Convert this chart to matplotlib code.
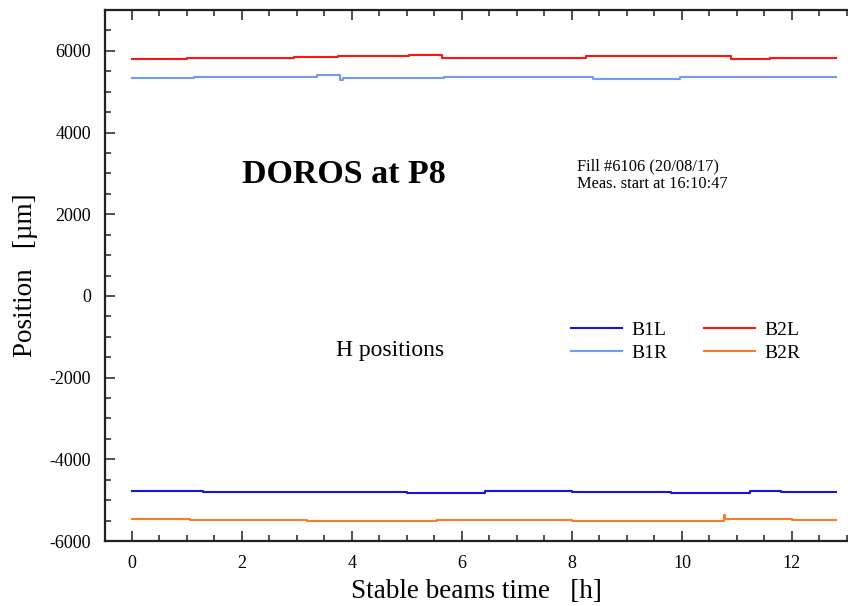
import matplotlib
matplotlib.use("Agg")
import matplotlib.pyplot as plt
from matplotlib.ticker import MultipleLocator

# ---- data ----
b1l_t = [0, 1.3, 3.1, 5.0, 6.41, 8.0, 9.8, 11.24, 11.8, 12.8]
b1l_v = [-4776, -4790, -4808, -4820, -4784, -4798, -4815, -4776, -4798, -4798]

b1r_t = [0, 1.13, 3.36, 3.79, 3.84, 5.68, 8.38, 9.97, 10.31, 12.8]
b1r_v = [5341, 5362, 5398, 5290, 5335, 5350, 5317, 5350, 5362, 5362]

b2l_t = [0, 1.0, 2.94, 3.75, 5.04, 5.64, 8.26, 10.9, 11.6, 12.8]
b2l_v = [5805, 5837, 5855, 5870, 5890, 5813, 5868, 5808, 5828, 5828]

b2r_t = [0, 1.05, 3.19, 5.55, 8.0, 9.5, 10.76, 10.79, 12.0, 12.8]
b2r_v = [-5470, -5494, -5512, -5490, -5505, -5510, -5371, -5461, -5478, -5478]

series_names = ["B1L", "B1R", "B2L", "B2R"]
series_colors = ["#1414e6", "#6f9cf5", "#ff1414", "#ff7a26"]

plt.rcParams['font.family'] = ['Liberation Serif', 'DejaVu Serif']
plt.rcParams['axes.unicode_minus'] = False

fig = plt.figure(figsize=(8.48, 6.06), dpi=100)
ax = fig.add_axes([105/848, 1-541/606, 1-105/848, (541-10)/606])

data = [(b1l_t, b1l_v), (b1r_t, b1r_v), (b2l_t, b2l_v), (b2r_t, b2r_v)]
for (t, v), name, c in zip(data, series_names, series_colors):
    ax.plot(t, v, drawstyle='steps-post', color=c, lw=1.5, label=name)

ax.set_xlim(-0.491, 13.02)
ax.set_ylim(-6000, 7000)
ax.xaxis.set_major_locator(MultipleLocator(2))
ax.xaxis.set_minor_locator(MultipleLocator(0.5))
ax.yaxis.set_major_locator(MultipleLocator(2000))
ax.yaxis.set_minor_locator(MultipleLocator(500))

ax.spines['right'].set_visible(False)
for s in ['left', 'bottom', 'top']:
    ax.spines[s].set_linewidth(1.6)
    ax.spines[s].set_color('#222222')

ax.tick_params(which='both', direction='in', top=True, right=False,
               labelsize=13, width=1.1, color='#222222')
ax.tick_params(which='major', length=7.5, pad=10)
ax.tick_params(which='minor', length=4)

ax.set_xlabel('Stable beams time   [h]', fontsize=19.5, labelpad=5)
ax.set_ylabel('Position   [µm]', fontsize=19.5, labelpad=8)

ax.text(3.85, 2963, 'DOROS at P8', fontsize=24.5, fontweight='bold',
        ha='center', va='center')
ax.text(8.09, 3183, 'Fill #6106 (20/08/17)', fontsize=11.8, ha='left', va='center')
ax.text(8.09, 2743, 'Meas. start at 16:10:47', fontsize=11.8, ha='left', va='center')
ax.text(4.69, -1347, 'H positions', fontsize=17, ha='center', va='center')

ax.legend(loc='upper left', bbox_to_anchor=(571/848, 1-321/606),
          bbox_transform=fig.transFigure, ncol=2, frameon=False,
          fontsize=14, handlelength=2.6, handletextpad=0.5,
          columnspacing=1.9, labelspacing=0.3, borderpad=0, borderaxespad=0)

fig.savefig('out.png', dpi=100)
